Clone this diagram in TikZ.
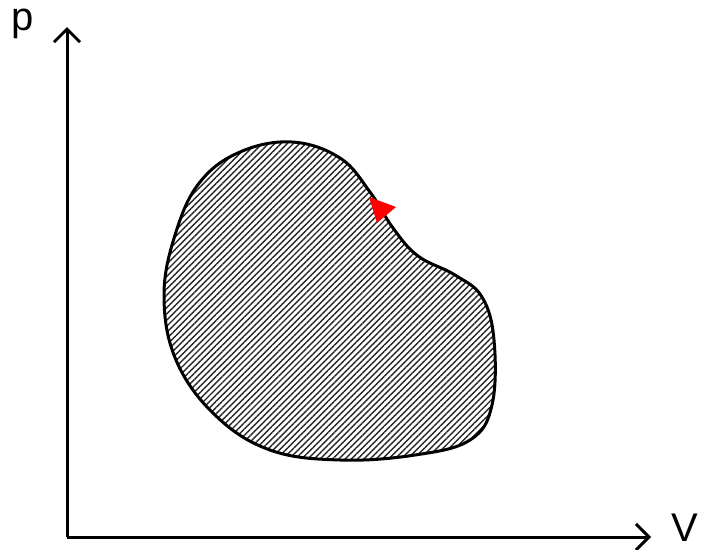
\documentclass[tikz,border=0pt]{standalone}
\usepackage{fontspec}
\setmainfont{Liberation Sans}
\usetikzlibrary{arrows.meta,patterns.meta}

\begin{document}
\begin{tikzpicture}[
  x=1pt,y=-1pt,
  axis/.style={line width=3pt,-{Straight Barb[length=13pt,width=26pt,line width=3pt]}},
  axislabel/.style={font=\fontsize{40}{48}\selectfont,inner sep=0pt},
  cycle/.style={line width=3pt,pattern={Lines[angle=45,distance=4.4pt,line width=1.4pt]},pattern color=black!85}
]
  \useasboundingbox (0,0) rectangle (701,549);

  \coordinate (origin) at (67,537);
  \coordinate (ptop) at (67,27);
  \coordinate (vend) at (651,537);
  \draw[axis] (origin) -- (ptop);
  \draw[axis] (origin) -- (vend);
  \node[axislabel] (plabel) at (23,24) {p};
  \node[axislabel] (vlabel) at (685,528) {V};

  % closed process in the p-V plane
  \draw[cycle] plot[smooth cycle,tension=0.65] coordinates {
    (292,142) (240,152) (200,182) (176,232) (164,295) (176,360)
    (215,415) (270,450) (340,460) (415,455) (470,440) (492,405)
    (494,340) (482,297) (455,275) (418,256) (393,228) (370,192)
    (340,158)};

  % direction of the cycle
  \fill[red] (369,197) -- (396,207) -- (377,223) -- cycle;
\end{tikzpicture}
\end{document}
